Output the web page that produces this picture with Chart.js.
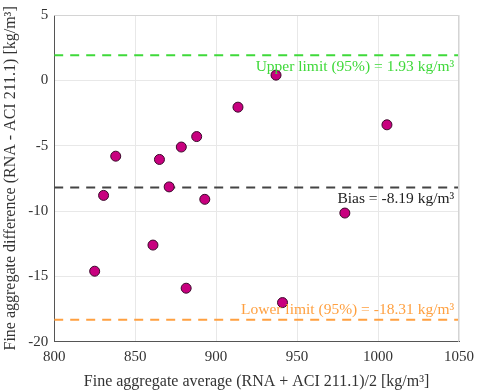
<!DOCTYPE html>
<html>
<head>
<meta charset="utf-8">
<script src="https://cdn.jsdelivr.net/npm/chart.js@4/dist/chart.umd.min.js"></script>
<style>
  html, body { margin: 0; padding: 0; background: #fff; }
  #wrap { width: 480px; height: 391px; }
</style>
</head>
<body>
<div id="wrap"><canvas id="chart"></canvas></div>
<script>
// Bland-Altman data
const avgValues  = [825, 830.5, 838, 861, 865, 871, 878.5, 881.5, 888, 893, 913.5, 937, 941, 979.5, 1005.5];
const diffValues = [-14.6, -8.8, -5.8, -12.6, -6.05, -8.15, -5.1, -15.9, -4.3, -9.1, -2.05, 0.4, -17.0, -10.15, -3.4];

const xTicks = [800, 850, 900, 950, 1000, 1050];
const yTicks = [-20, -15, -10, -5, 0, 5];

const upperLimit = 1.93;
const bias = -8.19;
const lowerLimit = -18.31;

const xRange = [800, 1050];
const serif = '"Liberation Serif", "DejaVu Serif", serif';

function hLine(y) {
    return xRange.map(x => ({ x: x, y: y }));
}

// draws the three limit captions next to their lines
const captionPlugin = {
    id: 'captions',
    afterDatasetsDraw(chart) {
        const ctx = chart.ctx;
        const xs = chart.scales.x, ys = chart.scales.y;
        const right = xs.getPixelForValue(1047);
        ctx.save();
        ctx.font = '15.5px ' + serif;
        ctx.textAlign = 'right';
        ctx.fillStyle = '#3fd93a';
        ctx.textBaseline = 'top';
        ctx.fillText('Upper limit (95%) = ' + upperLimit.toFixed(2) + ' kg/m³', right, ys.getPixelForValue(upperLimit) + 4);
        ctx.fillStyle = '#222';
        ctx.fillText('Bias = ' + bias.toFixed(2) + ' kg/m³', right, ys.getPixelForValue(bias) + 4);
        ctx.fillStyle = '#ffa040';
        ctx.textBaseline = 'bottom';
        ctx.fillText('Lower limit (95%) = ' + lowerLimit.toFixed(2) + ' kg/m³', right, ys.getPixelForValue(lowerLimit) - 2);
        // box on top / right like the original
        const a = chart.chartArea;
        ctx.strokeStyle = '#d4d4d4';
        ctx.lineWidth = 1;
        ctx.beginPath();
        ctx.moveTo(a.left, a.top + 0.5);
        ctx.lineTo(a.right - 0.5, a.top + 0.5);
        ctx.lineTo(a.right - 0.5, a.bottom);
        ctx.stroke();
        ctx.restore();
    }
};

const ctx = document.getElementById('chart').getContext('2d');
new Chart(ctx, {
    type: 'scatter',
    data: {
        datasets: [
            {
                label: 'Upper limit',
                type: 'line',
                data: hLine(upperLimit),
                borderColor: '#3fd93a',
                borderWidth: 2,
                borderDash: [9, 7],
                pointRadius: 0,
                order: 2
            },
            {
                label: 'Bias',
                type: 'line',
                data: hLine(bias),
                borderColor: '#444',
                borderWidth: 2,
                borderDash: [9, 7],
                pointRadius: 0,
                order: 2
            },
            {
                label: 'Lower limit',
                type: 'line',
                data: hLine(lowerLimit),
                borderColor: '#ffa040',
                borderWidth: 2,
                borderDash: [9, 7],
                pointRadius: 0,
                order: 2
            },
            {
                label: 'Differences',
                data: avgValues.map((x, i) => ({ x: x, y: diffValues[i] })),
                backgroundColor: '#c8007f',
                borderColor: '#3a0a2a',
                borderWidth: 1,
                pointRadius: 5,
                order: 1
            }
        ]
    },
    options: {
        responsive: true,
        maintainAspectRatio: false,
        animation: false,
        layout: { padding: { top: 11, right: 20, left: 1, bottom: 0 } },
        plugins: {
            legend: { display: false },
            tooltip: { enabled: false }
        },
        scales: {
            x: {
                type: 'linear',
                min: 800,
                max: 1050,
                afterBuildTicks: axis => { axis.ticks = xTicks.map(v => ({ value: v })); },
                ticks: { color: '#333', font: { family: serif, size: 15 }, padding: 6, callback: v => String(v) },
                grid: { color: '#e8e8e8', drawTicks: false },
                border: { color: '#555' },
                title: {
                    display: true,
                    text: 'Fine aggregate average (RNA + ACI 211.1)/2 [kg/m³]',
                    color: '#333',
                    font: { family: serif, size: 16 },
                    padding: { top: 0, bottom: 0 }
                }
            },
            y: {
                min: -20,
                max: 5,
                afterBuildTicks: axis => { axis.ticks = yTicks.map(v => ({ value: v })); },
                ticks: { color: '#333', font: { family: serif, size: 15 }, padding: 6 },
                grid: { color: '#e8e8e8', drawTicks: false },
                border: { color: '#555' },
                title: {
                    display: true,
                    text: 'Fine aggregate difference (RNA - ACI 211.1) [kg/m³]',
                    color: '#333',
                    font: { family: serif, size: 16 },
                    padding: { top: 0, bottom: 2 }
                }
            }
        }
    },
    plugins: [captionPlugin]
});
</script>
</body>
</html>
